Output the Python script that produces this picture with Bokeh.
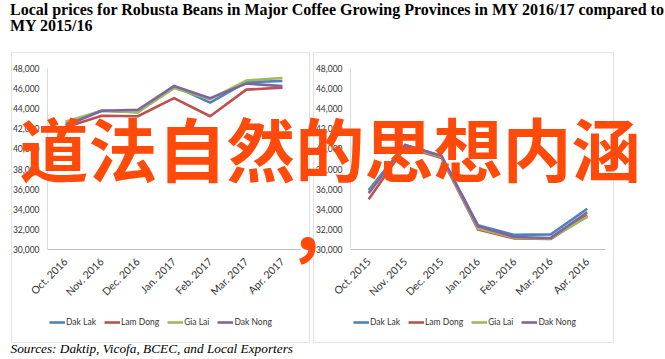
import math
from bokeh.plotting import figure
from bokeh.models import (Range1d, LinearAxis, FixedTicker, NumeralTickFormatter,
                          Legend, LegendItem, Label, BoxAnnotation)
from bokeh.embed import file_html
from bokeh.resources import INLINE

# ---------------- data ----------------
left_cats = ["Oct. 2016", "Nov. 2016", "Dec. 2016", "Jan. 2017", "Feb. 2017", "Mar. 2017", "Apr. 2017"]
right_cats = ["Oct. 2015", "Nov. 2015", "Dec. 2015", "Jan. 2016", "Feb. 2016", "Mar. 2016", "Apr. 2016"]
series_names = ["Dak Lak", "Lam Dong", "Gia Lai", "Dak Nong"]
series_colors = ["#4f81bd", "#c0504d", "#9bbb59", "#8064a2"]

dak_lak_1617 = [42550, 43800, 43650, 46250, 44600, 46650, 46750]
lam_dong_1617 = [42150, 43300, 43250, 45050, 43250, 45900, 46100]
gia_lai_1617 = [42700, 43800, 43650, 46050, 44950, 46800, 47050]
dak_nong_1617 = [42300, 43800, 43900, 46250, 45050, 46500, 46250]

dak_lak_1516 = [35900, 40400, 39300, 32400, 31450, 31500, 34050]
lam_dong_1516 = [35000, 40200, 39100, 32000, 31100, 31050, 33400]
gia_lai_1516 = [35700, 40300, 39200, 32100, 31150, 31100, 33250]
dak_nong_1516 = [35600, 40400, 39300, 32300, 31250, 31150, 33700]

y_ticks = [30000, 32000, 34000, 36000, 38000, 40000, 42000, 44000, 46000, 48000]

title_lines = ["Local prices for Robusta Beans in Major Coffee Growing Provinces in MY 2016/17 compared to",
               "MY 2015/16"]
source_text = "Sources: Daktip, Vicofa, BCEC, and Local Exporters"
overlay_text = "道法自然的思想内涵"
overlay_comma = "，"

# ---------------- canvas ----------------
W, H = 665, 359
p = figure(width=W, height=H, output_backend="svg", toolbar_location=None,
           x_axis_type=None, y_axis_type=None, min_border=0,
           x_range=Range1d(0, W), y_range=Range1d(19060.7, 54762.5))
p.title = None
p.outline_line_color = None
p.background_fill_color = "white"
p.border_fill_color = "white"
p.extra_y_ranges = {"px": Range1d(0, H)}
p.extra_x_ranges = {"xL": Range1d(-1.8005, 16.600), "xR": Range1d(-10.107, 8.147)}

AXFONT = "Lato"
TXT = "#333333"

# panel borders
for l, r in [(11, 309), (313, 613)]:
    p.add_layout(BoxAnnotation(left=l, right=r, bottom=17, top=307, y_range_name="px",
                               fill_color=None, fill_alpha=0, line_color="#a6a6a6", line_width=1.2))


def build_chart(xname, cats, series, legend_x):
    idx = list(range(len(cats)))
    renderers = []
    for name, color, vals in zip(series_names, series_colors, series):
        r = p.line(idx, vals, x_range_name=xname, line_color=color, line_width=2.6,
                   line_join="round")
        renderers.append((name, r))
    yax = LinearAxis(x_range_name=xname, fixed_location=-0.5, bounds=(30000, 48000),
                     ticker=FixedTicker(ticks=y_ticks),
                     formatter=NumeralTickFormatter(format="0,0"))
    yax.axis_line_color = "#d9d9d9"
    yax.major_tick_line_color = None
    yax.minor_tick_line_color = None
    yax.major_tick_out = 0
    yax.major_label_standoff = 8
    yax.major_label_text_font = AXFONT
    yax.major_label_text_font_size = "8.5px"
    yax.major_label_text_color = TXT
    p.add_layout(yax, "left")

    xax = LinearAxis(x_range_name=xname, fixed_location=30000, bounds=(-0.5, len(cats) - 0.5),
                     ticker=FixedTicker(ticks=idx),
                     major_label_overrides={i: c for i, c in zip(idx, cats)})
    xax.axis_line_color = "#bfbfbf"
    xax.major_tick_line_color = None
    xax.minor_tick_line_color = None
    xax.major_tick_out = 0
    xax.major_label_standoff = 10
    xax.major_label_orientation = math.pi / 4
    xax.major_label_text_font = AXFONT
    xax.major_label_text_font_size = "10.5px"
    xax.major_label_text_color = TXT
    p.add_layout(xax, "below")

    leg = Legend(items=[LegendItem(label=n, renderers=[r]) for n, r in renderers],
                 orientation="horizontal", location=(legend_x, 30),
                 glyph_width=16, glyph_height=14, label_height=14, label_standoff=1,
                 spacing=8, padding=0, margin=0, border_line_color=None,
                 background_fill_alpha=0, label_text_font=AXFONT,
                 label_text_font_size="8.5px", label_text_color=TXT)
    p.add_layout(leg)


build_chart("xL", left_cats, [dak_lak_1617, lam_dong_1617, gia_lai_1617, dak_nong_1617], 49)
build_chart("xR", right_cats, [dak_lak_1516, lam_dong_1516, gia_lai_1516, dak_nong_1516], 353)

# title and source
for i, t in enumerate(title_lines):
    p.add_layout(Label(x=9.5, y=350.4 - 16 * i, x_units="screen", y_units="screen", text=t,
                       text_font="Liberation Serif", text_font_style="bold",
                       text_font_size="16px", text_color="black", text_baseline="alphabetic"))
p.add_layout(Label(x=10, y=11.2, x_units="screen", y_units="screen", text=source_text,
                   text_font="Liberation Serif", text_font_style="italic",
                   text_font_size="13.3px", text_color="black", text_baseline="alphabetic"))

# overlay
p.add_layout(Label(x=19, y=212.5, x_units="screen", y_units="screen", text=overlay_text,
                   text_font="Noto Sans CJK SC", text_font_style="bold",
                   text_font_size="69px", text_color="#ff4a0a", text_baseline="alphabetic"))
p.add_layout(Label(x=287, y=137, x_units="screen", y_units="screen", text=overlay_comma,
                   text_font="Noto Sans CJK SC", text_font_style="bold",
                   text_font_size="72px", text_color="#ff4a0a", text_baseline="alphabetic"))

open("out.html", "w").write(file_html(p, INLINE))
